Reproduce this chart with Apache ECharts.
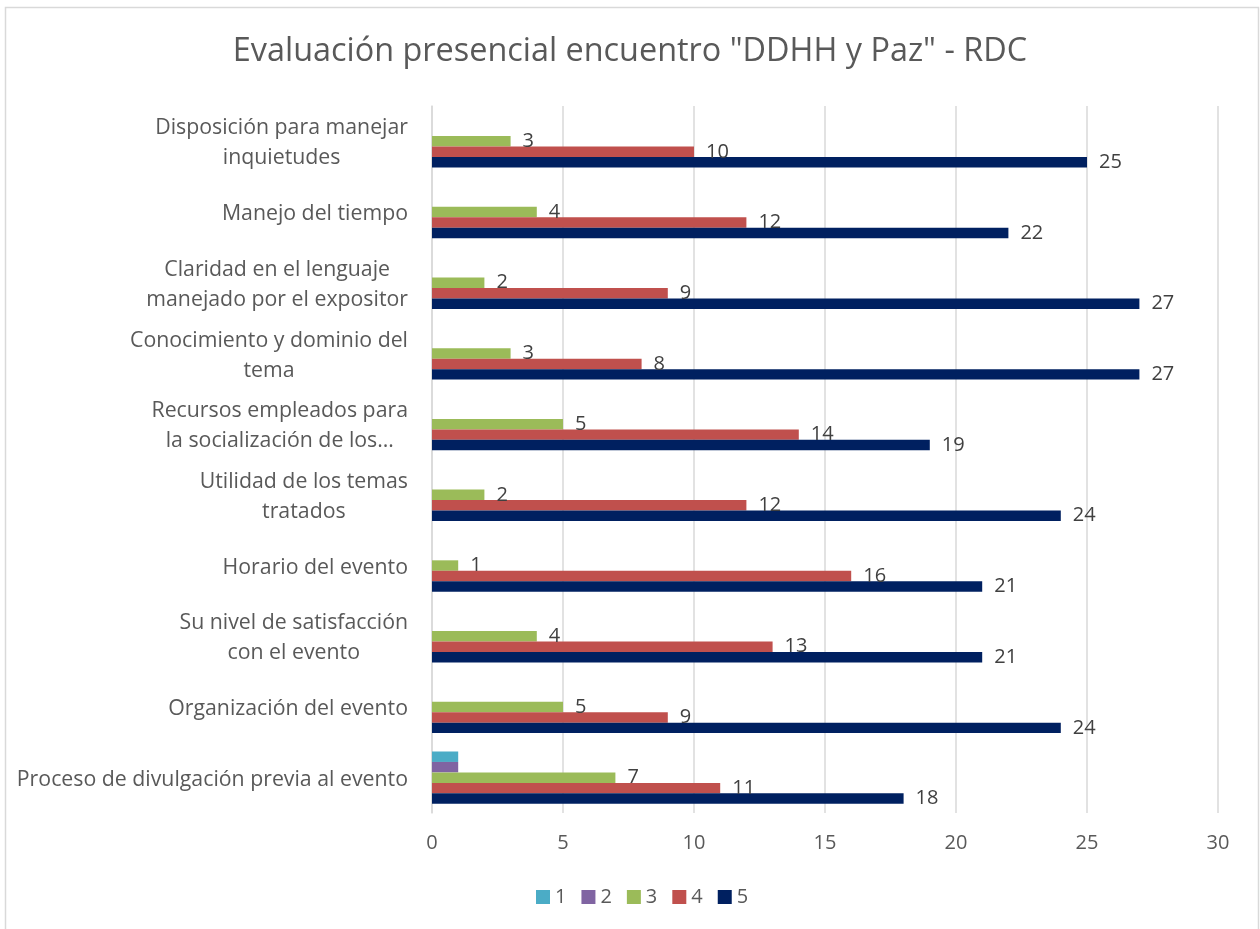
<!DOCTYPE html>
<html>
<head>
<meta charset="utf-8">
<script src="https://cdn.jsdelivr.net/npm/echarts@6/dist/echarts.min.js"></script>
<style>
html,body{margin:0;padding:0;background:#fff;}
#chart{width:1260px;height:929px;}
</style>
</head>
<body>
<div id="chart"></div>
<script>
// Categories, top to bottom as in the picture
const categories = [
  'Disposición para manejar\ninquietudes',
  'Manejo del tiempo',
  'Claridad en el lenguaje\nmanejado por el expositor',
  'Conocimiento y dominio del\ntema',
  'Recursos empleados para\nla socialización de los…',
  'Utilidad de los temas\ntratados',
  'Horario del evento',
  'Su nivel de satisfacción\ncon el evento',
  'Organización del evento',
  'Proceso de divulgación previa al evento'
];
const seriesNames = ['1', '2', '3', '4', '5'];
const s1 = [0, 0, 0, 0, 0, 0, 0, 0, 0, 1];
const s2 = [0, 0, 0, 0, 0, 0, 0, 0, 0, 1];
const s3 = [3, 4, 2, 3, 5, 2, 1, 4, 5, 7];
const s4 = [10, 12, 9, 8, 14, 12, 16, 13, 9, 11];
const s5 = [25, 22, 27, 27, 19, 24, 21, 21, 24, 18];
const xTicks = { min: 0, max: 30, interval: 5 };
const colors = ['#4bacc6', '#8064a2', '#9bbb59', '#c0504d', '#002060'];

const FONT = 'Open Sans';
const values = [s1, s2, s3, s4, s5];

const chart = echarts.init(document.getElementById('chart'));
chart.setOption({
  animation: false,
  textStyle: { fontFamily: FONT },
  title: {
    text: 'Evaluación presencial encuentro "DDHH y Paz" - RDC',
    left: 'center',
    top: 31,
    textStyle: { fontFamily: FONT, fontSize: 32.4, fontWeight: 'normal', color: '#595959' }
  },
  graphic: [{
    type: 'rect',
    shape: { x: 5.5, y: 7.5, width: 1253, height: 940 },
    style: { fill: 'none', stroke: '#d9d9d9', lineWidth: 1.5 },
    silent: true
  }],
  legend: {
    data: seriesNames,
    bottom: 17,
    left: 531,
    itemWidth: 14,
    itemHeight: 14,
    itemGap: 15,
    icon: 'rect',
    textStyle: { fontFamily: FONT, fontSize: 20, color: '#595959' }
  },
  grid: { left: 432, right: 42, top: 106, bottom: 116 },
  xAxis: {
    type: 'value',
    min: xTicks.min, max: xTicks.max, interval: xTicks.interval,
    axisLine: { show: false },
    axisTick: { show: false },
    splitLine: { lineStyle: { color: '#d9d9d9', width: 1.5 } },
    axisLabel: { fontFamily: FONT, fontSize: 20, color: '#595959', margin: 20 }
  },
  yAxis: {
    type: 'category',
    inverse: true,
    data: categories,
    axisLine: { show: true, lineStyle: { color: '#d9d9d9', width: 1.5 } },
    axisTick: { show: false },
    axisLabel: {
      margin: 24,
      fontFamily: FONT, fontSize: 21.3, color: '#595959', lineHeight: 30,
      formatter: function (v) {
        return v.split('\n').map(function (l) { return '{c|' + l + '}'; }).join('\n');
      },
      rich: { c: { align: 'center', fontFamily: FONT, fontSize: 21.3, color: '#595959', lineHeight: 30, padding: [4, 0, 0, 0] } }
    }
  },
  series: seriesNames.map(function (name, i) {
    return {
      name: name,
      type: 'bar',
      data: values[i],
      barGap: '0%',
      barCategoryGap: '26%',
      itemStyle: { color: colors[i] },
      label: {
        show: i >= 2,
        position: 'right',
        distance: 12,
        fontFamily: FONT,
        fontSize: 20,
        color: '#404040',
        formatter: function (p) { return p.value > 0 ? String(p.value) : ''; }
      }
    };
  })
});
</script>
</body>
</html>
